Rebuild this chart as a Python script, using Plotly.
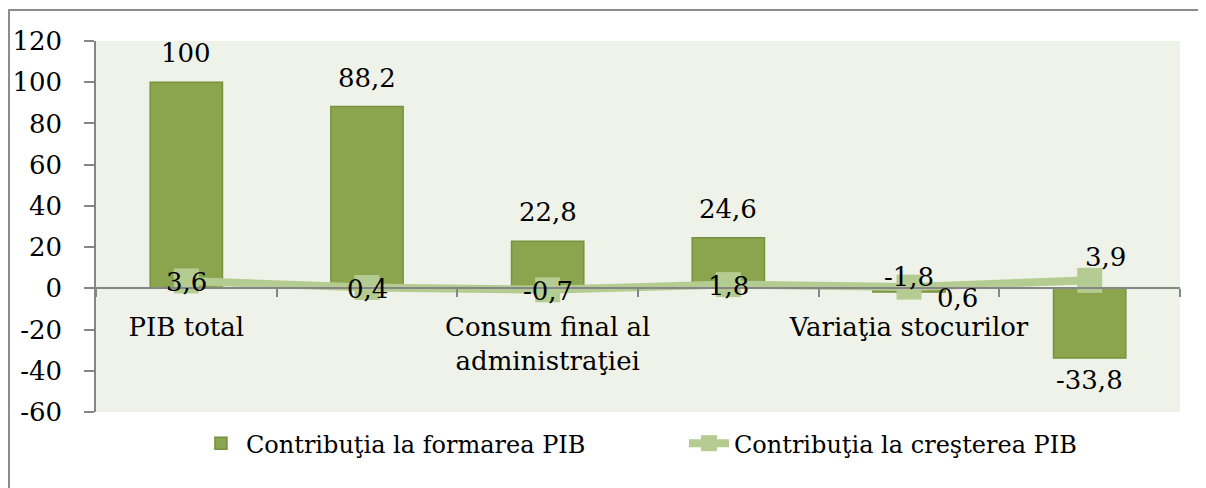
import plotly.graph_objects as go

categories = [
    "PIB total",
    "Consum final al gospodăriilor populaţiei",
    "Consum final al administraţiei",
    "Formarea brută de capital fix",
    "Variaţia stocurilor",
    "Export net",
]
shown_labels = ["PIB total", "", "Consum final al<br>administraţiei", "", "Variaţia stocurilor", ""]
formare_pib = [100, 88.2, 22.8, 24.6, -1.8, -33.8]
crestere_pib = [3.6, 0.4, -0.7, 1.8, 0.6, 3.9]
y_ticks = [-60, -40, -20, 0, 20, 40, 60, 80, 100, 120]
y_ticktext = ["-60", "-40", "-20", "0", "20", "40", "60", "80", "100", "120"]

bar_label_shift = [(0, 29), (0, 29), (0, 29), (0, 29), (0, 15), (0, -22)]
line_label_shift = [(0, -1), (0, -1), (0, -1), (0, -1), (48, -11), (16, 23)]

FONT = "DejaVu Serif"
GRAY = "#868686"


def fmt(v):
    return ("%g" % v).replace(".", ",")


fig = go.Figure()
fig.add_trace(go.Bar(
    x=categories, y=formare_pib, name="Contribuţia la formarea PIB",
    marker=dict(color="#8AA54E", line=dict(color="#76923C", width=1.5)),
    width=0.4,
))
fig.add_trace(go.Scatter(
    x=categories, y=crestere_pib, name="Contribuţia la creşterea PIB",
    mode="lines+markers",
    line=dict(color="#B4CC91", width=8),
    marker=dict(symbol="square", size=25, color="#B4CC91"),
))

annotations = []
for c, v, (dx, dy) in zip(categories, formare_pib, bar_label_shift):
    annotations.append(dict(x=c, y=v, text=fmt(v), showarrow=False, xshift=dx, yshift=dy,
                            yanchor="middle", xanchor="center",
                            font=dict(family=FONT, size=26, color="black")))
for c, v, (dx, dy) in zip(categories, crestere_pib, line_label_shift):
    annotations.append(dict(x=c, y=v, text=fmt(v), showarrow=False, xshift=dx, yshift=dy,
                            yanchor="middle", xanchor="center",
                            font=dict(family=FONT, size=26, color="black")))

fig.update_layout(
    width=1206, height=488,
    margin=dict(l=88, r=34, t=33, b=84, autoexpand=False),
    paper_bgcolor="white",
    plot_bgcolor="#EFF2E9",
    font=dict(family=FONT, size=26, color="black"),
    bargap=0.6,
    annotations=annotations,
    showlegend=True,
    legend=dict(orientation="h", x=0.5424, xanchor="center", y=-0.085, yanchor="middle",
                font=dict(family=FONT, size=24, color="black"),
                entrywidth=433, itemwidth=40, bgcolor="rgba(0,0,0,0)"),
    xaxis=dict(
        type="category", anchor="free", position=60 / 180, automargin=False,
        showline=True, linecolor=GRAY, linewidth=1.5,
        ticks="outside", tickson="boundaries", ticklen=8, tickcolor=GRAY, tickwidth=1.5,
        tickvals=categories, ticktext=shown_labels, tickangle=0,
        showgrid=False, zeroline=False, ticklabelstandoff=16,
        tickfont=dict(family=FONT, size=26, color="black"),
    ),
    yaxis=dict(
        range=[-60, 120], showline=True, linecolor=GRAY, linewidth=1.5, automargin=False,
        ticks="outside", ticklen=10, tickcolor=GRAY, tickwidth=1.5,
        tickvals=y_ticks, ticktext=y_ticktext,
        showgrid=False, zeroline=False, ticklabelstandoff=17,
        tickfont=dict(family=FONT, size=26, color="black"),
    ),
    shapes=[dict(type="rect", xref="paper", yref="paper",
                 x0=(1 - 88) / 1084, x1=1.2, y0=-0.4, y1=1 + (33 - 2) / 371,
                 line=dict(color="#8C8C8C", width=2), fillcolor="rgba(0,0,0,0)", layer="below")],
)

fig.write_html("out.html")
